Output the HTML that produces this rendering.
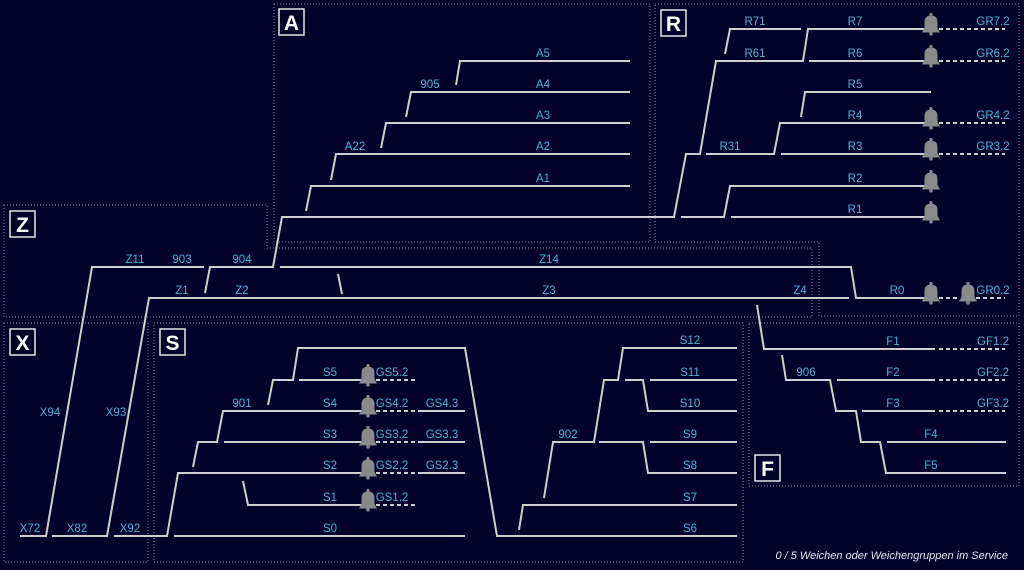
<!DOCTYPE html>
<html><head><meta charset="utf-8"><style>
html,body{margin:0;padding:0;background:#02012a;}
svg{display:block}
text{font-family:"Liberation Sans",sans-serif;}
.l{fill:#4fb2d8;font-size:11.5px;text-anchor:middle}
.t{stroke:#cfcfcf;stroke-width:2;fill:none}
.d{stroke:#cfcfcf;stroke-width:2;fill:none;stroke-dasharray:4,3}
.z{stroke:#8a8aa0;stroke-width:1;fill:none;stroke-dasharray:1,2}
.b{fill:none;stroke:#e8e8e8;stroke-width:1.5}
.bl{fill:#fff;font-size:21px;font-weight:bold;text-anchor:middle}
</style></head><body>
<svg width="1024" height="570" viewBox="0 0 1024 570" xmlns="http://www.w3.org/2000/svg">
<defs>
<g id="bell" transform="scale(1.3)"><path d="M-7,5 L-5,1.5 L-5,-3 Q-5,-8 0,-8 Q5,-8 5,-3 L5,1.5 L7,5 Z" fill="#8a8a8a"/><circle cx="0" cy="-8.7" r="1.3" fill="#8a8a8a"/><circle cx="0" cy="6" r="1.4" fill="#8a8a8a"/></g>
</defs>
<rect width="1024" height="570" fill="#02012a"/>
<path class="z" d="M274,4H650V242H274Z"/>
<path class="z" d="M655,4H1019V316H819V242H655Z"/>
<path class="z" d="M4,205H267V248H812V317H4Z"/>
<path class="z" d="M4,323H148V562H4Z"/>
<path class="z" d="M154,323H743V562H154Z"/>
<path class="z" d="M749,323H1019V486H749Z"/>
<rect class="b" x="279" y="9" width="25" height="26"/><text class="bl" x="291.5" y="30">A</text>
<rect class="b" x="661" y="10" width="25" height="26"/><text class="bl" x="673.5" y="31">R</text>
<rect class="b" x="10" y="211" width="25" height="26"/><text class="bl" x="22.5" y="232">Z</text>
<rect class="b" x="10" y="329" width="25" height="26"/><text class="bl" x="22.5" y="350">X</text>
<rect class="b" x="160" y="329" width="25" height="26"/><text class="bl" x="172.5" y="350">S</text>
<rect class="b" x="755" y="455" width="25" height="26"/><text class="bl" x="767.5" y="476">F</text>
<path class="t" d="M456,85L460,61H630"/>
<path class="t" d="M406,117L411,92H630"/>
<path class="t" d="M381,148L386,123H630"/>
<path class="t" d="M331,180L336,154H630"/>
<path class="t" d="M306,211L311,186H630"/>
<path class="t" d="M205,293L210,267H273L282,217H674L686,154H700L716,61H803L808,29H925"/>
<text class="l" x="543" y="57">A5</text><text class="l" x="543" y="88">A4</text><text class="l" x="430" y="88">905</text>
<text class="l" x="543" y="119">A3</text><text class="l" x="543" y="150">A2</text><text class="l" x="355" y="150">A22</text>
<text class="l" x="543" y="182">A1</text>
<path class="t" d="M725,54L730,29H801"/>
<path class="t" d="M809,61H925"/>
<path class="t" d="M801,117L805,92H931"/>
<path class="t" d="M706,154H774L780,123H925"/>
<path class="t" d="M781,154H925"/>
<path class="t" d="M681,217H724L730,186H925"/>
<path class="t" d="M731,217H925"/>
<path class="d" d="M939,29H1005M939,61H1005M939,123H1005M939,154H1005"/>
<use href="#bell" x="931" y="26"/><use href="#bell" x="931" y="58"/><use href="#bell" x="931" y="120"/>
<use href="#bell" x="931" y="151"/><use href="#bell" x="931" y="183"/><use href="#bell" x="931" y="214"/>
<text class="l" x="755" y="25">R71</text><text class="l" x="855" y="25">R7</text><text class="l" x="993" y="25">GR7.2</text>
<text class="l" x="755" y="57">R61</text><text class="l" x="855" y="57">R6</text><text class="l" x="993" y="57">GR6.2</text>
<text class="l" x="855" y="88">R5</text>
<text class="l" x="855" y="119">R4</text><text class="l" x="993" y="119">GR4.2</text>
<text class="l" x="730" y="150">R31</text><text class="l" x="855" y="150">R3</text><text class="l" x="993" y="150">GR3.2</text>
<text class="l" x="855" y="182">R2</text><text class="l" x="855" y="213">R1</text>
<path class="t" d="M20,536H46L92,267H204"/>
<path class="t" d="M280,267H851L856,298H925"/>
<path class="t" d="M338,274L342,294"/>
<path class="t" d="M52,536H107L149,298H849"/>
<path class="d" d="M939,298H960M976,298H1005"/>
<use href="#bell" x="931" y="295"/><use href="#bell" x="968" y="295"/>
<text class="l" x="135" y="263">Z11</text><text class="l" x="182" y="263">903</text><text class="l" x="242" y="263">904</text>
<text class="l" x="549" y="263">Z14</text>
<text class="l" x="182" y="294">Z1</text><text class="l" x="242" y="294">Z2</text><text class="l" x="549" y="294">Z3</text>
<text class="l" x="800" y="294">Z4</text><text class="l" x="897" y="294">R0</text><text class="l" x="993" y="294">GR0.2</text>
<text class="l" x="50" y="416">X94</text><text class="l" x="116" y="416">X93</text>
<text class="l" x="30" y="532">X72</text><text class="l" x="77" y="532">X82</text><text class="l" x="130" y="532">X92</text>
<path class="t" d="M114,536H167L178,473H362"/>
<path class="t" d="M174,536H465"/>
<path class="t" d="M193,467L198,442H217L223,411H362"/>
<path class="t" d="M224,442H362"/>
<path class="t" d="M268,405L273,380H293L298,348H465L497,536H737"/>
<path class="t" d="M299,380H362"/>
<path class="t" d="M243,481L248,505H362"/>
<path class="d" d="M376,380H417M376,411H417M376,442H417M376,473H417M376,505H417"/>
<path class="t" d="M418,411H465M418,442H465M418,473H465"/>
<use href="#bell" x="368" y="377"/><use href="#bell" x="368" y="408"/><use href="#bell" x="368" y="439"/>
<use href="#bell" x="368" y="470"/><use href="#bell" x="368" y="502"/>
<text class="l" x="330" y="376">S5</text><text class="l" x="392" y="376">GS5.2</text>
<text class="l" x="242" y="407">901</text><text class="l" x="330" y="407">S4</text><text class="l" x="392" y="407">GS4.2</text><text class="l" x="442" y="407">GS4.3</text>
<text class="l" x="330" y="438">S3</text><text class="l" x="392" y="438">GS3.2</text><text class="l" x="442" y="438">GS3.3</text>
<text class="l" x="330" y="469">S2</text><text class="l" x="392" y="469">GS2.2</text><text class="l" x="442" y="469">GS2.3</text>
<text class="l" x="330" y="501">S1</text><text class="l" x="392" y="501">GS1.2</text>
<text class="l" x="330" y="532">S0</text>
<path class="t" d="M544,498L553,442H594L604,380H618L623,348H737"/>
<path class="t" d="M625,380H643L648,411H737"/>
<path class="t" d="M650,380H737"/>
<path class="t" d="M599,442H643L648,473H737"/>
<path class="t" d="M650,442H737"/>
<path class="t" d="M519,530L523,505H737"/>
<text class="l" x="568" y="438">902</text>
<text class="l" x="690" y="344">S12</text><text class="l" x="690" y="376">S11</text><text class="l" x="690" y="407">S10</text>
<text class="l" x="690" y="438">S9</text><text class="l" x="690" y="469">S8</text><text class="l" x="690" y="501">S7</text><text class="l" x="690" y="532">S6</text>
<path class="t" d="M757,305L764,349H935"/>
<path class="t" d="M782,355L786,380H830L836,411H856L861,442H880L886,473H1006"/>
<path class="t" d="M837,380H935M862,411H935M887,442H1006"/>
<path class="d" d="M939,349H1005M939,380H1005M939,411H1005"/>
<text class="l" x="893" y="345">F1</text><text class="l" x="993" y="345">GF1.2</text>
<text class="l" x="806" y="376">906</text><text class="l" x="893" y="376">F2</text><text class="l" x="993" y="376">GF2.2</text>
<text class="l" x="893" y="407">F3</text><text class="l" x="993" y="407">GF3.2</text>
<text class="l" x="931" y="438">F4</text><text class="l" x="931" y="469">F5</text>
<text x="1008" y="559" style="fill:#e6e6ee;font-size:11px;font-style:italic;text-anchor:end">0 / 5 Weichen oder Weichengruppen im Service</text>
</svg>
</body></html>
